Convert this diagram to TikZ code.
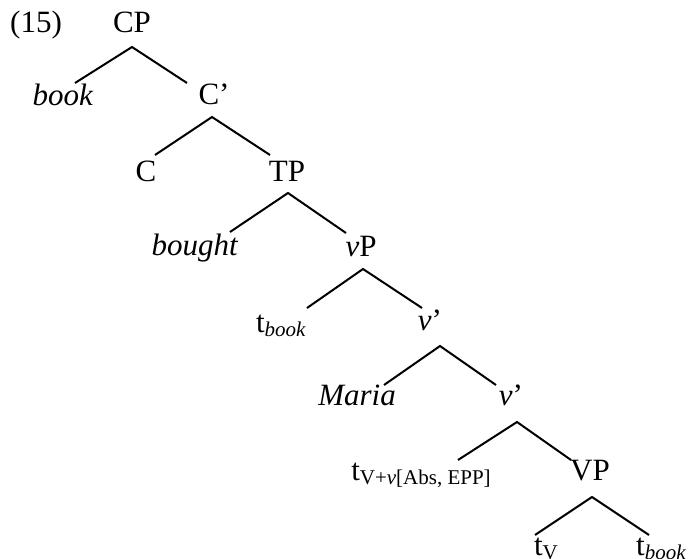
\documentclass[tikz,border=0pt]{standalone}
\usepackage{fontspec}
\setmainfont{Liberation Serif}
\newcommand{\sbx}[1]{\raisebox{-4pt}{\fontsize{21}{21}\selectfont #1}}
\begin{document}
\begin{tikzpicture}[x=1pt,y=-1pt,
  lab/.style={anchor=base,inner sep=0pt,font=\fontsize{31}{36}\selectfont},
  edge/.style={line width=2pt}]
\useasboundingbox (0,0) rectangle (688,559);
% nodes
\node[lab,anchor=base west] (num) at (10,33) {(15)};
\node[lab] (CP) at (132,33) {CP};
\node[lab] (book) at (63,106) {\textit{book}};
\node[lab] (Cbar) at (214,105) {C'};
\node[lab] (C) at (146,181) {C};
\node[lab] (TP) at (287,181) {TP};
\node[lab] (bought) at (195,255) {\textit{bought}};
\node[lab] (vP) at (361,256) {\textit{v}P};
\node[lab] (tbook) at (281,332) {t\sbx{\textit{book}}};
\node[lab] (vbar1) at (430,330) {\textit{v}'};
\node[lab] (Maria) at (357,405) {\textit{Maria}};
\node[lab] (vbar2) at (511,405) {\textit{v}'};
\node[lab] (tVv) at (421,480) {t\sbx{V+\textit{v}[Abs, EPP]}};
\node[lab] (VP) at (590,480) {VP};
\node[lab] (tV) at (546,555) {t\sbx{V}};
\node[lab] (tbook2) at (661,555) {t\sbx{\textit{book}}};
% branch points
\coordinate (CPa) at (132,47);   \coordinate (bookt) at (75,83);   \coordinate (Cbart) at (187,83);
\coordinate (Cbara) at (212,117); \coordinate (Ct) at (155,155);   \coordinate (TPt) at (270,155);
\coordinate (TPa) at (288,193);  \coordinate (boughtt) at (230,232); \coordinate (vPt) at (346,233);
\coordinate (vPa) at (363,269);  \coordinate (tbookt) at (307,308); \coordinate (vbar1t) at (422,308);
\coordinate (vbar1a) at (440,346); \coordinate (Mariat) at (384,385); \coordinate (vbar2t) at (496,385);
\coordinate (vbar2a) at (517,422); \coordinate (tVvt) at (458,460); \coordinate (VPt) at (571,460);
\coordinate (VPa) at (592,497);  \coordinate (tVt) at (535,535);   \coordinate (tbook2t) at (649,535);
% edges
\draw[edge] (bookt) -- (CPa) -- (Cbart);
\draw[edge] (Ct) -- (Cbara) -- (TPt);
\draw[edge] (boughtt) -- (TPa) -- (vPt);
\draw[edge] (tbookt) -- (vPa) -- (vbar1t);
\draw[edge] (Mariat) -- (vbar1a) -- (vbar2t);
\draw[edge] (tVvt) -- (vbar2a) -- (VPt);
\draw[edge] (tVt) -- (VPa) -- (tbook2t);
\end{tikzpicture}
\end{document}
